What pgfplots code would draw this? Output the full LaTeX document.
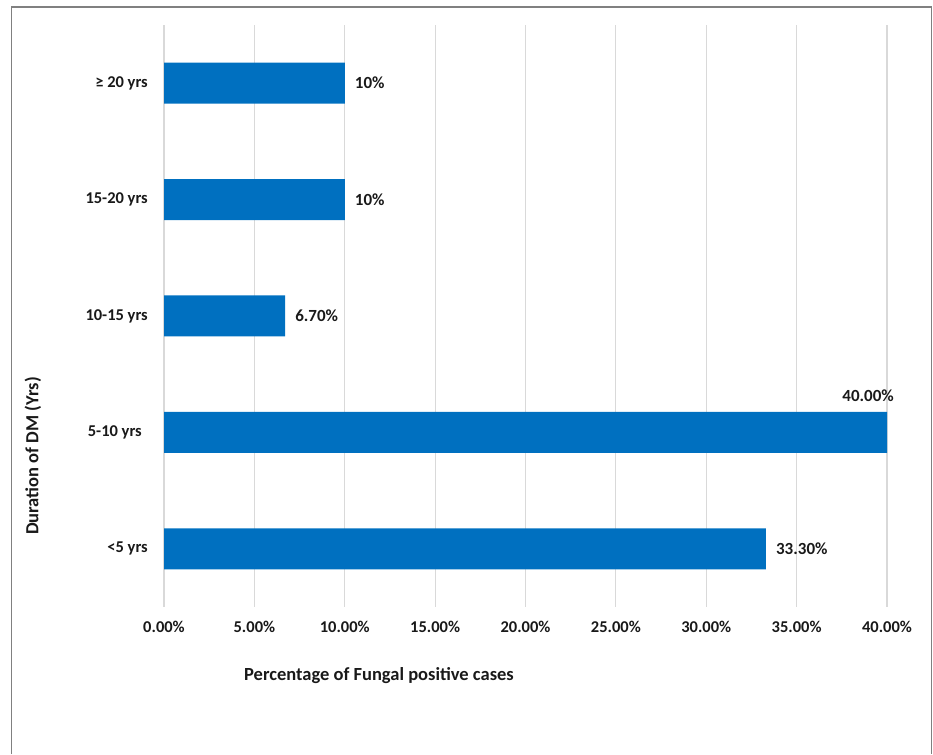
\documentclass[border=0pt]{standalone}
\usepackage{pgfplots}
\pgfplotsset{compat=1.18}
\usepackage{fontspec}
\setmainfont{Carlito}
\definecolor{barblue}{HTML}{0070C0}
\newcommand{\lf}{\fontsize{16.5}{19}\selectfont\bfseries}
\newcommand{\blf}{\fontsize{17}{19}\selectfont\bfseries}
\newcommand{\af}{\fontsize{18.5}{21}\selectfont\bfseries}
\begin{document}
\begin{tikzpicture}[x=1pt,y=1pt]
\path[use as bounding box] (0,0) rectangle (933,754);
\draw[color=black!50, line width=1.5pt] (11.5,0) -- (11.5,747) -- (931.5,747) -- (931.5,0);
\begin{axis}[at={(164pt,147pt)}, anchor=south west, scale only axis,
  width=723pt, height=582pt,
  xbar, bar width=41pt,
  xmin=0, xmax=40, ymin=-0.5, ymax=4.5,
  xtick={0,5,10,15,20,25,30,35,40},
  xticklabels={0.00\%,5.00\%,10.00\%,15.00\%,20.00\%,25.00\%,30.00\%,35.00\%,40.00\%},
  ytick={0,1,2,3,4},
  yticklabels={{<5 yrs},{5-10 yrs\hspace*{6pt}},{10-15 yrs},{15-20 yrs},{≥ 20 yrs}},
  /pgf/number format/assume math mode=true,
  axis line style={draw=none}, major tick length=0pt,
  xmajorgrids, grid style={color=black!15, line width=1.2pt},
  tick label style={font=\lf, text=black!90},
  xticklabel style={anchor=north, inner sep=0pt, yshift=-14pt},
  yticklabel style={anchor=east, inner sep=0pt, xshift=-16pt},
  nodes near coords, point meta=explicit symbolic,
  nodes near coords style={anchor=west, inner sep=0pt, xshift=10pt, font=\blf, text=black!90},
  clip=false]
\addplot[fill=barblue, draw=none] coordinates {(33.3,0)[33.30\%] (40,1)[] (6.7,2)[6.70\%] (10,3)[10\%] (10,4)[10\%]};
\node[anchor=base east, inner sep=0pt, font=\blf, text=black!90, xshift=7pt, yshift=31pt] at (axis cs:40,1) {40.00\%};
\end{axis}
\node[font=\af, text=black!90] at (379,78) {Percentage of Fungal positive cases};
\node[font=\af, text=black!90, rotate=90] at (33,298) {Duration of DM (Yrs)};
\end{tikzpicture}
\end{document}
